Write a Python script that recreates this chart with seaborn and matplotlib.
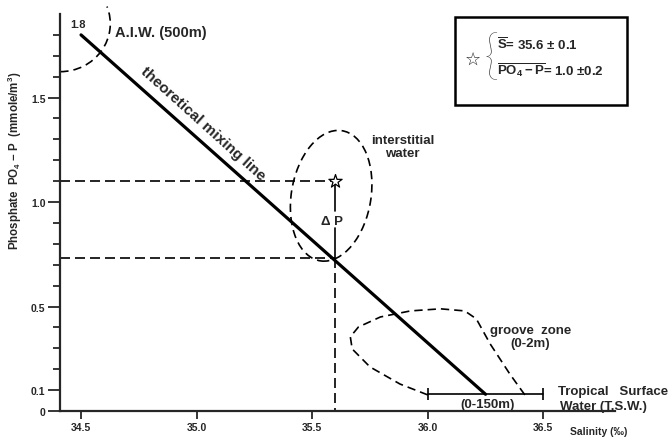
import matplotlib
matplotlib.use("Agg")
import matplotlib.pyplot as plt
from matplotlib.patches import Ellipse, Arc, Rectangle
import pandas as pd
import seaborn as sns

# theoretical mixing line between A.I.W. and T.S.W. (salinity, phosphate)
mix_salinity = [34.5, 36.25]
mix_phosphate = [1.8, 0.08]

# interstitial water mean (star) and mixing-line value below it
star_salinity = 35.6
star_phosphate = 1.1
mix_at_star = 0.73

# Tropical Surface Water salinity range (0-150m)
tsw_salinity = [36.0, 36.5]
tsw_phosphate = 0.08

# groove zone outline
groove_salinity = [36.0, 35.88, 35.75, 35.673, 35.665, 35.70, 35.795, 35.925,
                   36.055, 36.16, 36.21, 36.27, 36.355, 36.42]
groove_phosphate = [0.077, 0.129, 0.211, 0.297, 0.355, 0.402, 0.45, 0.479,
                    0.489, 0.479, 0.441, 0.321, 0.177, 0.077]

x_ticks = [34.5, 35.0, 35.5, 36.0, 36.5]
x_labels = ["34.5", "35.0", "35.5", "36.0", "36.5"]
y_ticks = [0, 0.1, 0.5, 1.0, 1.5]
y_labels = ["0", "0.1", "0.5", "1.0", "1.5"]
y_minor = [0.2, 0.3, 0.4, 0.6, 0.7, 0.8, 0.9, 1.1, 1.2, 1.3, 1.4, 1.6, 1.7, 1.8]


def main():
    sns.set_style("ticks")
    plt.rcParams["font.family"] = ["Liberation Sans", "DejaVu Sans"]
    plt.rcParams["font.weight"] = "bold"
    plt.rcParams["mathtext.fontset"] = "custom"
    plt.rcParams["mathtext.rm"] = "Liberation Sans:bold"
    plt.rcParams["mathtext.bf"] = "Liberation Sans:bold"
    plt.rcParams["mathtext.it"] = "Liberation Sans:bold"

    fig = plt.figure(figsize=(6.7, 4.39), dpi=100)
    ax = fig.add_axes([60 / 670, 1 - 412 / 439, 555 / 670, 397 / 439])

    dash = (0, (6, 3))
    x_left = 34.409

    # mixing line
    mix_df = pd.DataFrame({"salinity": mix_salinity, "phosphate": mix_phosphate})
    sns.lineplot(data=mix_df, x="salinity", y="phosphate", color="black",
                 linewidth=2.3, ax=ax)

    # dashed guides to the star and to the mixing line
    ax.plot([x_left, star_salinity], [star_phosphate] * 2, ls=dash, lw=1.2, color="black")
    ax.plot([x_left, star_salinity], [mix_at_star] * 2, ls=dash, lw=1.2, color="black")
    ax.plot([star_salinity] * 2, [star_phosphate, 0.955], lw=1.2, color="black")
    ax.plot([star_salinity] * 2, [0.875, mix_at_star], lw=1.2, color="black")
    ax.plot([star_salinity] * 2, [mix_at_star, 0], ls=dash, lw=1.2, color="black")

    # star
    sns.scatterplot(x=[star_salinity], y=[star_phosphate], marker="*", s=100,
                    color="white", edgecolor="black", linewidth=0.9, zorder=5, ax=ax)

    # interstitial water ellipse
    ax.add_patch(Ellipse((35.582, 1.03), 0.345, 0.63, angle=-8, fill=False,
                         ls=(0, (5, 3)), lw=1.2, ec="black"))
    # A.I.W. arc
    ax.add_patch(Arc((34.41, 1.854), 0.433, 0.46, theta1=-90, theta2=22,
                     ls=(0, (5, 3)), lw=1.2, ec="black", clip_on=False))
    # groove zone
    ax.plot(groove_salinity, groove_phosphate, ls=(0, (5, 3)), lw=1.2, color="black")

    # T.S.W. range bar
    ax.plot(tsw_salinity, [tsw_phosphate] * 2, color="black", lw=1.2,
            marker="|", ms=9, mew=1.2)

    # text annotations
    ax.text(34.487, 1.854, "1.8", fontsize=8, ha="center", va="center")
    ax.text(34.647, 1.816, "A.I.W. (500m)", fontsize=10.5, va="center")
    ax.text(35.027, 1.376, "theoretical mixing line", fontsize=11, rotation=-42,
            ha="center", va="center", rotation_mode="anchor")
    ax.text(35.89, 1.265, "interstitial\nwater", fontsize=9.5, ha="center",
            va="center", linespacing=1.05)
    ax.text(35.585, 0.91, "Δ P", fontsize=9.5, ha="center", va="center")
    ax.text(36.444, 0.355, "groove  zone\n(0-2m)", fontsize=9.5, ha="center",
            va="center", linespacing=1.1)
    ax.text(36.258, 0.034, "(0-150m)", fontsize=9.5, ha="center", va="center")
    ax.text(36.565, 0.096, "Tropical   Surface", fontsize=9.5, va="center", clip_on=False)
    ax.text(36.573, 0.024, "Water (T.S.W.)", fontsize=9.5, va="center", clip_on=False)

    # axes styling
    ax.set_xlim(x_left, 36.81)
    ax.set_ylim(0, 1.9)
    ax.set_xlabel("")
    ax.set_ylabel("")
    sns.despine(ax=ax)
    for side in ["left", "bottom"]:
        ax.spines[side].set_linewidth(1.6)
    ax.set_xticks(x_ticks, x_labels)
    ax.set_yticks(y_ticks, y_labels)
    ax.set_yticks(y_minor, minor=True)
    ax.tick_params(axis="x", length=6, width=1.3, pad=2, labelsize=7.5)
    ax.tick_params(axis="y", which="major", length=9, width=1.3, pad=1.5, labelsize=7.5)
    ax.tick_params(axis="y", which="minor", length=5, width=1.3)

    fig.text(15 / 670, 1 - 161 / 439, "Phosphate  PO$_4$ − P  (mmole/m$^3$)",
             rotation=90, ha="center", va="center", fontsize=8.3)
    fig.text(570 / 670, 1 - 432 / 439, "Salinity (‰)", fontsize=7.5, va="center")

    # legend box
    fig.add_artist(Rectangle((455 / 670, 1 - 106 / 439), 172 / 670, 88 / 439,
                             transform=fig.transFigure, fill=False, lw=1.8, ec="black"))
    fig.text(473 / 670, 1 - 60 / 439, "☆", family="DejaVu Sans", fontsize=13,
             ha="center", va="center")
    fig.text(491 / 670, 1 - 59 / 439, "{", family="Lato", fontweight="light",
             fontsize=38, ha="center", va="center")
    fig.text(497 / 670, 1 - 45 / 439, r"$\overline{\mathrm{S}}$= 35.6 ± 0.1",
             fontsize=9.5, va="center")
    fig.text(497 / 670, 1 - 70 / 439, r"$\overline{\mathrm{PO_4 - P}}$= 1.0 ±0.2",
             fontsize=9.5, va="center")

    fig.savefig("out.png", dpi=100)


if __name__ == "__main__":
    main()
